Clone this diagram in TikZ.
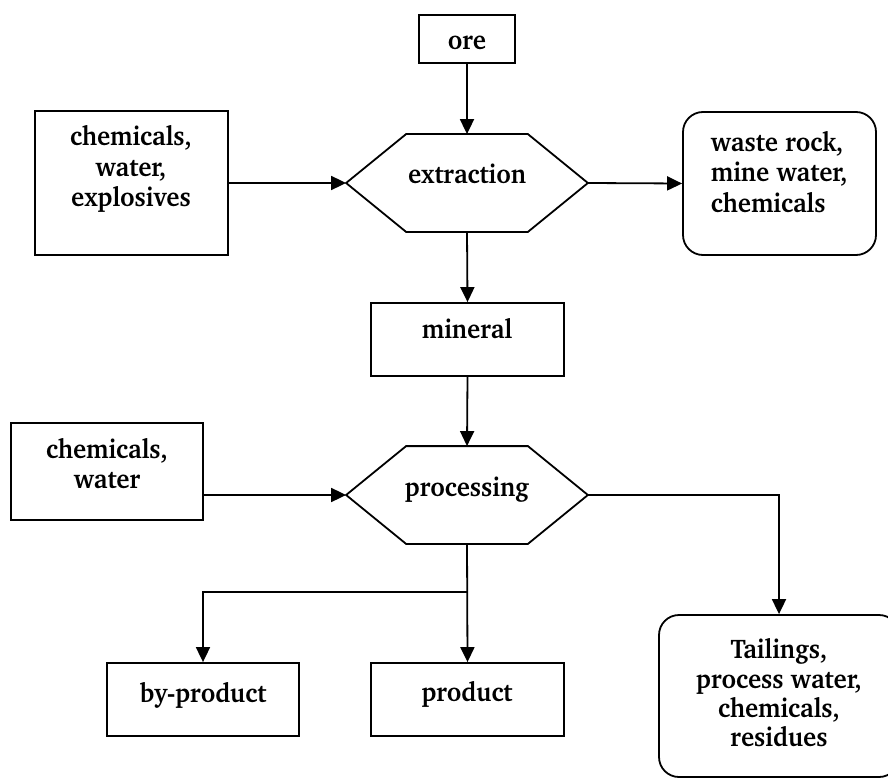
\documentclass[tikz,border=0pt]{standalone}
\usepackage[T1]{fontenc}
\usepackage{charter}
\usepackage{graphicx}
\usetikzlibrary{arrows.meta,calc}
\newcommand{\sq}[1]{\scalebox{0.93}[1]{#1}}
\begin{document}
\begin{tikzpicture}[x=1pt,y=-1pt,
  line width=1.8pt,
  box/.style={draw,rectangle,inner sep=0pt},
  rbox/.style={draw,rectangle,rounded corners=20pt,inner sep=0pt},
  hexa/.style={rectangle,inner sep=0pt,minimum width=240pt,minimum height=96pt},
  txt/.style={anchor=base,inner sep=0pt,font=\fontsize{27}{30}\selectfont\bfseries},
  arr/.style={-{Triangle[length=15pt,width=14pt]}},
]
\useasboundingbox (0,0) rectangle (888,778);
\clip (0,0) rectangle (888,778);
% boxes
\node[box,minimum width=96pt,minimum height=48pt] (ore) at (467,39) {};
\node[box,minimum width=193pt,minimum height=144pt] (c1) at (131.5,183) {};
\node[hexa] (ext) at (467,183) {};
\node[rbox,minimum width=193pt,minimum height=143pt] (waste) at (779.5,183.5) {};
\node[box,minimum width=193pt,minimum height=73pt] (min) at (467.5,339.5) {};
\node[box,minimum width=192pt,minimum height=97pt] (c2) at (107,471.5) {};
\node[hexa] (proc) at (467,495) {};
\node[box,minimum width=192pt,minimum height=73pt] (byp) at (203,699.5) {};
\node[box,minimum width=193pt,minimum height=73pt] (prod) at (467.5,699.5) {};
\node[rbox,minimum width=240pt,minimum height=162pt] (tail) at (779,696) {};
% hexagons
\foreach \h in {ext,proc}{
  \draw (\h.west) -- ([xshift=60pt]\h.north west) -- ([xshift=-60pt]\h.north east)
    -- (\h.east) -- ([xshift=-60pt]\h.south east) -- ([xshift=60pt]\h.south west) -- cycle;
}
% texts
\node[txt] (t-ore) at (467,50) {\sq{ore}};
\node[txt] (t-c1a) at (131,146) {\sq{chemicals,}};
\node[txt] (t-c1b) at (131,176) {\sq{water,}};
\node[txt] (t-c1c) at (131,206) {\sq{explosives}};
\node[txt] (t-ext) at (467,183) {\sq{extraction}};
\node[txt,anchor=base west] (t-wa) at (710,152) {\sq{waste rock,}};
\node[txt,anchor=base west] (t-wb) at (710,182) {\sq{mine water,}};
\node[txt,anchor=base west] (t-wc) at (710,212) {\sq{chemicals}};
\node[txt] (t-min) at (467,338) {\sq{mineral}};
\node[txt] (t-c2a) at (107,458) {\sq{chemicals,}};
\node[txt] (t-c2b) at (107,488) {\sq{water}};
\node[txt] (t-proc) at (467,496) {\sq{processing}};
\node[txt] (t-byp) at (203,702) {\sq{by-product}};
\node[txt] (t-prod) at (467,701) {\sq{product}};
\node[txt] (t-ta) at (779,658) {\sq{Tailings,}};
\node[txt] (t-tb) at (779,688) {\sq{process water,}};
\node[txt] (t-tc) at (779,717) {\sq{chemicals,}};
\node[txt] (t-td) at (779,746) {\sq{residues}};
% connectors
\draw[arr] (ore.south) -- (ext.north);
\draw[arr] (c1.east) -- (ext.west);
\draw[arr] (ext.east) -- (waste.west);
\draw[arr] (ext.south) -- (min.north);
\draw[arr] (min.south) -- (proc.north);
\draw[arr] (proc.west -| c2.east) -- (proc.west);
\draw[arr] (proc.east) -| (tail.north);
\draw[arr] (proc.south) -- (prod.north);
\coordinate (j) at (467,592);
\draw[arr] (j) -| (byp.north);
\end{tikzpicture}
\end{document}
